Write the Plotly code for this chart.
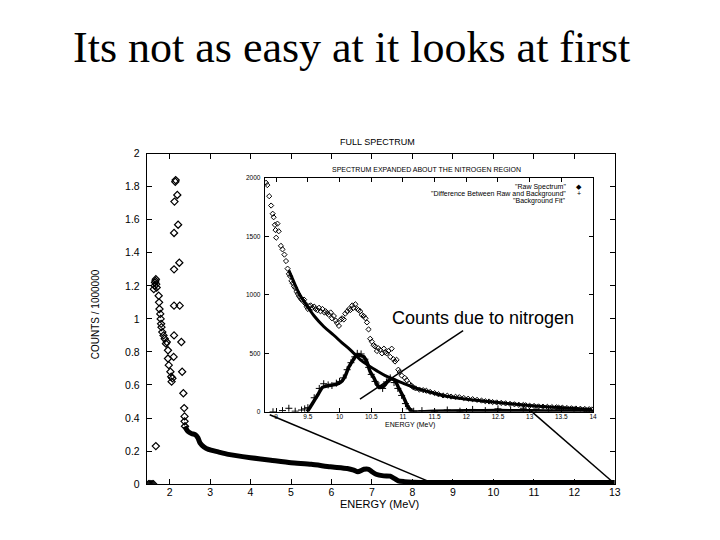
import plotly.graph_objects as go

W, H = 720, 540

# ---------------- main spectrum data ----------------
main_pts_x = [1.48, 1.51, 1.54, 1.57, 1.60,
              1.66,
              1.61, 1.63, 1.64, 1.65, 1.66, 1.67, 1.68,
              1.73, 1.74, 1.75, 1.77, 1.78, 1.79, 1.80, 1.82, 1.85, 1.88, 1.91, 1.93,
              1.96, 1.96, 1.98, 2.02, 2.04, 2.05, 2.07,
              2.10, 2.11, 2.11, 2.11, 2.11, 2.12, 2.14, 2.15,
              2.19, 2.21, 2.24, 2.25, 2.29, 2.31, 2.34, 2.36, 2.37, 2.37, 2.38]
main_pts_y = [0, 0, 0, 0, 0,
              0.23,
              1.18, 1.20, 1.22, 1.23, 1.24, 1.21, 1.19,
              1.14, 1.10, 1.06, 1.03, 1.00, 0.97, 0.95, 0.92, 0.90, 0.88, 0.85, 0.86,
              0.81, 0.76, 0.72, 0.68, 0.65, 0.62, 0.64,
              0.77, 0.90, 1.08, 1.30, 1.52, 1.71, 1.83, 1.84,
              1.75, 1.57, 1.34, 1.08, 0.86, 0.68, 0.55, 0.46, 0.41, 0.38, 0.35]

main_curve_x = [2.38, 2.45, 2.55, 2.63, 2.70, 2.75, 2.85, 2.96, 3.2, 3.45, 4.0, 4.5, 5.0,
                5.5, 5.97, 6.39, 6.55, 6.65, 6.8, 6.92, 7.0, 7.1, 7.29, 7.45, 7.55, 7.65,
                7.8, 8.0, 8.5, 9, 10, 11, 12, 13]
main_curve_y = [0.35, 0.32, 0.305, 0.30, 0.28, 0.25, 0.225, 0.21, 0.195, 0.18, 0.16, 0.145,
                0.13, 0.12, 0.105, 0.095, 0.085, 0.075, 0.09, 0.09, 0.075, 0.06, 0.05, 0.048,
                0.035, 0.02, 0.015, 0.012, 0.01, 0.01, 0.01, 0.01, 0.01, 0.01]

main_yticks = [0, 0.2, 0.4, 0.6, 0.8, 1, 1.2, 1.4, 1.6, 1.8, 2]
main_xticks = [2, 3, 4, 5, 6, 7, 8, 9, 10, 11, 12, 13]

# ---------------- inset data ----------------
raw_x = [8.84, 8.86, 8.89, 8.92, 8.945, 8.96, 8.98, 8.99, 9.00, 9.02, 9.04, 9.075, 9.10, 9.13,
         9.155, 9.18, 9.20, 9.22, 9.24, 9.26, 9.28, 9.30, 9.32, 9.34, 9.36, 9.38, 9.40, 9.42,
         9.44, 9.46, 9.48, 9.50, 9.52, 9.545, 9.57, 9.60, 9.62, 9.65, 9.676, 9.70, 9.73, 9.76,
         9.78, 9.806, 9.83, 9.86, 9.88, 9.91, 9.94, 9.96, 9.99, 10.02, 10.04, 10.067, 10.09,
         10.12, 10.15, 10.17, 10.20, 10.22, 10.25, 10.28, 10.30, 10.327, 10.35, 10.38, 10.41,
         10.432, 10.458, 10.484, 10.51, 10.537, 10.56, 10.59, 10.61, 10.64, 10.67, 10.70, 10.72,
         10.745, 10.77, 10.80, 10.823, 10.85, 10.875, 10.90, 10.928, 10.95, 10.98, 11.03, 11.06,
         11.10, 11.13, 11.163,
         11.2, 11.26, 11.32, 11.37, 11.43, 11.5, 11.56, 11.632, 11.7, 11.76, 11.83, 11.89, 11.96,
         12.03, 12.1, 12.17, 12.24, 12.3, 12.36, 12.415, 12.48, 12.55, 12.62, 12.69, 12.76,
         12.83, 12.9, 12.936, 13.0, 13.07, 13.14, 13.21, 13.28, 13.35, 13.42, 13.457, 13.52,
         13.59, 13.66, 13.73, 13.8, 13.87, 13.94, 13.98]
raw_y = [1960, 1940, 1845, 1765, 1695, 1665, 1600, 1555, 1490, 1610, 1545, 1420, 1390, 1345,
         1290, 1225, 1180, 1160, 1120, 1100, 1075, 1060, 1030, 1010, 990, 975, 960, 950,
         960, 925, 900, 880, 905, 910, 890, 900, 880, 870, 890, 860, 880, 850,
         860, 845, 830, 850, 800, 820, 780, 760, 735, 790, 800, 790, 840,
         860, 880, 870, 910, 890, 920, 880, 870, 860, 830, 820, 800,
         765, 705, 625, 600, 570, 560, 520, 545, 530, 500, 540, 510,
         500, 520, 470, 540, 450, 430, 445, 360, 340, 310, 290, 270,
         240, 225, 210,
         200, 190, 185, 180, 170, 160, 150, 140, 138, 130, 128, 125, 118,
         112, 108, 102, 96, 90, 88, 83, 80, 76, 72, 68, 64,
         60, 58, 56, 52, 50, 46, 44, 42, 40, 38, 36, 34,
         32, 30, 28, 26, 24, 22, 20]

diff_line_x = [9.49, 9.57, 9.65, 9.73, 9.81, 9.96, 10.04, 10.09, 10.14, 10.2, 10.25, 10.3, 10.38,
               10.43, 10.48, 10.54, 10.62, 10.69, 10.77, 10.82, 10.88, 10.93, 11.01, 11.08,
               11.16, 11.5, 12.0, 12.5, 13.0, 13.5, 14.0]
diff_line_y = [0, 69, 139, 208, 222, 236, 264, 306, 375, 431, 472, 486, 472,
               431, 347, 292, 208, 215, 264, 280, 264, 208, 125, 42,
               0, 5, 8, 10, 8, 6, 5]

diff_pts_x = [8.95, 9.1, 9.2, 9.3, 9.4, 9.45, 9.5, 9.6, 9.68, 9.75, 9.82, 9.88, 9.95, 10.0,
              10.06, 10.12, 10.18, 10.24, 10.28, 10.34, 10.4, 10.46, 10.5, 10.56, 10.62, 10.68,
              10.74, 10.8, 10.86, 10.92, 10.98, 11.04, 11.1, 11.17, 11.3, 11.5, 11.7, 11.9,
              12.1, 12.3, 12.5, 12.7, 12.9, 13.1, 13.3, 13.5, 13.7, 13.9]
diff_pts_y = [0, 10, 30, 5, 15, 25, 35, 120, 200, 240, 230, 225, 245, 260,
              290, 360, 420, 470, 500, 495, 450, 380, 320, 260, 225, 200,
              255, 290, 250, 200, 140, 70, 25, 5, 10, 0, 15, 5,
              20, 10, 25, 15, 30, 20, 10, 25, 15, 5]

bg_x = [9.2, 9.28, 9.36, 9.45, 9.6, 9.75, 9.91, 10.04, 10.17, 10.33, 10.46, 10.59, 10.72, 10.85,
        11.0, 11.16, 11.4, 11.63, 11.9, 12.15, 12.42, 12.7, 12.95, 13.2, 13.46, 13.72, 13.98]
bg_y = [1210, 1110, 1015, 935, 820, 730, 655, 590, 530, 445, 395, 350, 310, 280,
        245, 210, 172, 140, 115, 98, 83, 68, 56, 45, 36, 28, 20]

inset_xticks = [9, 9.5, 10, 10.5, 11, 11.5, 12, 12.5, 13, 13.5, 14]
inset_yticks = [0, 500, 1000, 1500, 2000]

legend_labels = ['"Raw Spectrum"', '"Difference Between Raw and Background"', '"Background Fit"']
legend_symbols = ['\u25c6', '+', '']


def px(x):
    return x / W


def py(y):
    return 1 - y / H


fig = go.Figure()

fig.add_trace(go.Scatter(x=main_curve_x, y=main_curve_y, mode='lines',
                         line=dict(color='black', width=5, shape='spline', smoothing=0.6),
                         xaxis='x', yaxis='y', showlegend=False))
fig.add_trace(go.Scatter(x=main_pts_x, y=main_pts_y, mode='markers',
                         marker=dict(symbol='diamond-open', size=5.5, color='black',
                                     line=dict(width=1.2, color='black')),
                         xaxis='x', yaxis='y', showlegend=False))

fig.add_trace(go.Scatter(x=bg_x, y=bg_y, mode='lines',
                         line=dict(color='black', width=3, shape='spline'),
                         xaxis='x2', yaxis='y2', showlegend=False))
fig.add_trace(go.Scatter(x=diff_line_x, y=diff_line_y, mode='lines',
                         line=dict(color='black', width=3.5, shape='spline', smoothing=0.5),
                         xaxis='x2', yaxis='y2', showlegend=False))
fig.add_trace(go.Scatter(x=diff_pts_x, y=diff_pts_y, mode='markers',
                         marker=dict(symbol='cross-thin-open', size=5, color='black',
                                     line=dict(width=1, color='black')),
                         xaxis='x2', yaxis='y2', showlegend=False))
fig.add_trace(go.Scatter(x=raw_x, y=raw_y, mode='markers',
                         marker=dict(symbol='diamond-open', size=4, color='black',
                                     line=dict(width=1, color='black')),
                         xaxis='x2', yaxis='y2', showlegend=False))

axis_common = dict(showgrid=False, zeroline=False, showline=True, linecolor='black',
                   linewidth=1, ticks='inside', mirror='ticks', tickcolor='black')

fig.update_layout(
    autosize=True,
    margin=dict(l=0, r=0, t=0, b=0),
    paper_bgcolor='white', plot_bgcolor='white',
    font=dict(family='Liberation Sans', color='black'),
    xaxis=dict(domain=[px(148), px(620)], range=[1.436, 13.0], anchor='y',
               tickvals=main_xticks, ticklen=5, tickfont=dict(size=10.5),
               ticklabelstandoff=-2, **axis_common),
    yaxis=dict(domain=[py(489), py(151)], range=[0, 2], anchor='x',
               tickvals=main_yticks, ticklen=5, tickfont=dict(size=10.5),
               ticklabelstandoff=4, **axis_common),
    xaxis2=dict(domain=[px(267), px(598)], range=[8.82, 14.0], anchor='y2',
                tickvals=inset_xticks, ticklen=4, tickfont=dict(size=6.5),
                ticklabelstandoff=-2, **axis_common),
    yaxis2=dict(domain=[py(415), py(176)], range=[0, 2000], anchor='x2',
                tickvals=inset_yticks, ticklen=4, tickfont=dict(size=6.5),
                ticklabelstandoff=2, **axis_common),
)

ann = []
ann.append(dict(x=px(354), y=py(42), text='Its not as easy at it looks at first',
                font=dict(family='Liberation Serif', size=44, color='black')))
ann.append(dict(x=px(381), y=py(139), text='FULL SPECTRUM', font=dict(size=9)))
ann.append(dict(x=px(383), y=py(509), text='ENERGY (MeV)', font=dict(size=11)))
ann.append(dict(x=px(96), y=py(315), text='COUNTS / 1000000', textangle=-90,
                font=dict(size=10)))
ann.append(dict(x=px(430), y=py(167), text='SPECTRUM EXPANDED ABOUT THE NITROGEN REGION',
                font=dict(size=7)))
ann.append(dict(x=px(413), y=py(429), text='ENERGY (MeV)', font=dict(size=7)))
ann.append(dict(x=px(487), y=py(319), text='Counts due to nitrogen',
                font=dict(size=18)))
for i, (lab, sym) in enumerate(zip(legend_labels, legend_symbols)):
    yy = py(185 + 7 * i)
    ann.append(dict(x=px(573), y=yy, text=lab, xanchor='right', font=dict(size=7)))
    if sym:
        ann.append(dict(x=px(584), y=yy, text=sym, font=dict(size=7)))

for a in ann:
    a.setdefault('xanchor', 'center')
    a.update(xref='paper', yref='paper', yanchor='middle', showarrow=False)
fig.update_layout(annotations=ann)

lines = [((467, 332), (363, 402)),
         ((272, 418), (434, 487)),
         ((533, 412), (617, 486))]
shapes = []
for (x0, y0), (x1, y1) in lines:
    shapes.append(dict(type='line', xref='paper', yref='paper',
                       x0=px(x0), y0=py(y0), x1=px(x1), y1=py(y1),
                       line=dict(color='black', width=1.5)))
fig.update_layout(shapes=shapes)

fig.write_html('out.html', config={'displayModeBar': False, 'responsive': True},
               default_width='100vw', default_height='100vh',
               post_script="document.body.style.margin='0';"
                           "document.body.style.overflow='hidden';"
                           "Plotly.Plots.resize(document.getElementById('{plot_id}'));")
